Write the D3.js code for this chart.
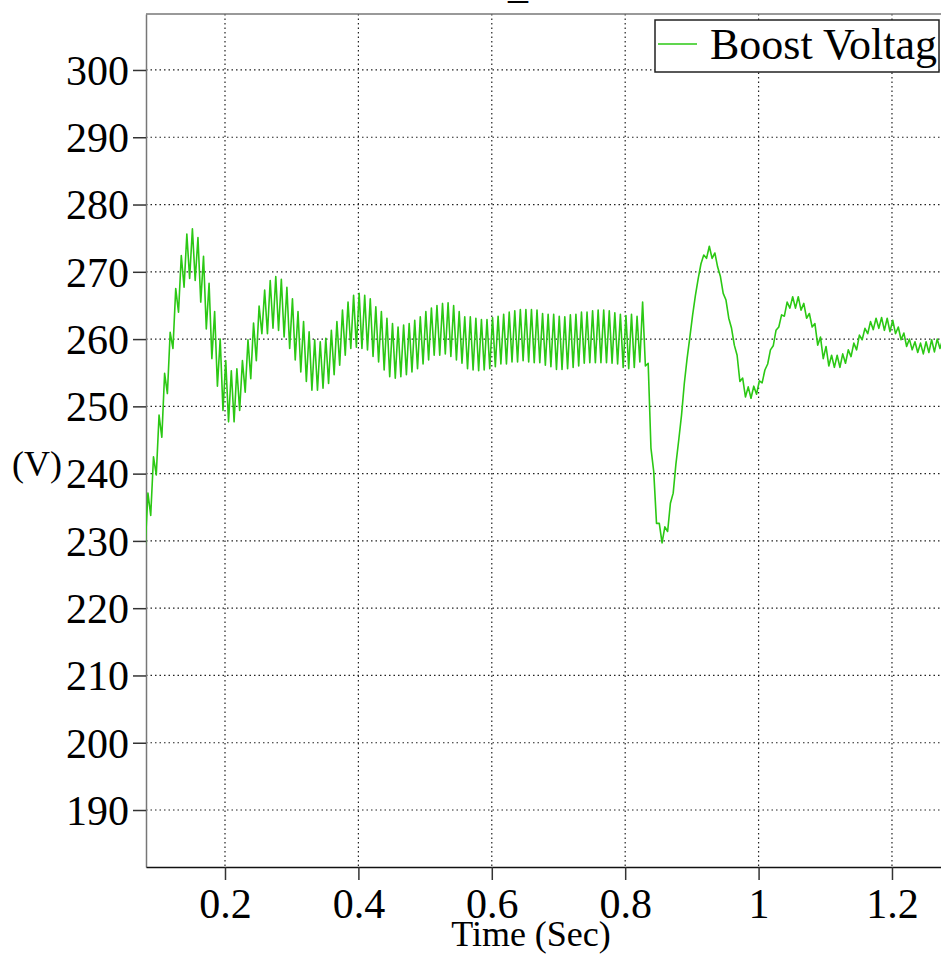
<html>
  <head>
    <meta charset="utf-8"/>
    <style>
      body { margin: 0; background: #fff; }
      text { font-family: "Liberation Serif", "Times New Roman", serif; fill: #000; }
    </style>
  </head>
  <body>
    <svg></svg>
  </body>
  <script src="https://d3js.org/d3.v7.min.js"></script>
  <script>
  // sampled boost voltage, one sample every half ripple period (1/240 s)
  var timeStart = 0.0803;
  var sampleStep = 1 / 240;

  var voltsStartup = [
    229.0, 237.1, 233.8, 242.5, 239.8, 248.7, 245.4, 254.9, 251.9, 261.0,
    258.6, 267.5, 264.0, 272.4, 267.7, 275.6, 269.0, 276.4, 268.7, 275.1,
    265.5, 272.3, 261.5, 268.3, 257.1, 264.1, 253.0, 260.0, 249.4, 256.8,
    247.7, 255.3, 247.7, 255.6, 249.4, 256.8, 252.1, 259.9, 254.1, 262.4,
    256.8, 264.9
  ];

  var voltsRipple = [
    260.8, 267.3, 260.8, 268.7, 261.6, 269.3, 261.3, 268.9, 260.3, 267.7,
    258.6, 266.0, 256.9, 264.1, 255.1, 262.6, 253.7, 261.1, 252.4, 259.9,
    252.4, 259.6, 252.7, 260.1, 253.4, 261.3, 254.7, 262.6, 256.1, 264.3,
    257.6, 265.5, 258.6, 266.5, 258.8, 266.8, 258.6, 266.5, 258.4, 266.0,
    257.4, 264.8, 256.6, 264.1, 255.4, 263.1, 254.4, 262.3, 254.2, 261.8,
    254.4, 262.1, 254.7, 262.3, 255.1, 262.8, 255.6, 263.3, 256.3, 264.1,
    256.9, 264.6, 257.6, 265.0, 257.6, 265.3, 257.8, 265.4, 257.4, 265.0,
    256.9, 264.1, 256.4, 263.3, 255.6, 263.3, 255.4, 263.1, 255.3, 262.9,
    255.4, 262.9, 255.6, 263.2, 255.9, 263.4, 256.3, 263.7, 256.3, 264.0,
    256.6, 264.2, 256.6, 264.4, 256.8, 264.4, 256.6, 264.4, 256.5, 264.3,
    256.5, 263.8, 256.1, 263.7, 255.9, 263.7, 255.5, 263.4, 255.5, 263.3,
    255.6, 263.6, 255.8, 263.7, 256.0, 264.0, 256.4, 264.0, 256.5, 264.2,
    256.5, 264.3, 256.5, 264.3, 256.5, 264.2, 256.4, 263.9, 256.3, 263.7,
    255.8, 263.5, 255.6, 263.7, 255.8, 263.4, 256.6
  ];

  var voltsStep = [
    265.5, 256.0, 256.4, 243.8, 240.3, 232.6, 232.6, 229.7, 232.1, 231.4,
    235.6, 237.1, 241.5, 245.0, 248.7, 253.4, 257.1, 260.3, 263.6, 266.5,
    269.0, 271.2, 272.5, 272.0, 273.8, 272.0, 272.8, 270.7, 269.3, 266.8,
    265.8, 263.1, 261.6, 259.1, 257.6, 253.7, 254.2, 251.4, 252.9, 251.2,
    253.0, 251.8, 253.8, 253.5, 255.4, 256.3, 258.4, 259.0, 261.3, 261.8,
    263.6, 263.4, 265.5, 264.6, 266.3, 264.6, 266.3, 264.3, 265.3, 263.1,
    263.8, 261.8, 262.3, 259.1, 260.3, 257.1, 258.9, 256.0, 257.6, 255.8,
    257.6, 255.8, 257.8, 256.4, 258.4, 257.4, 259.4, 258.4, 260.6, 259.9,
    261.6, 260.8, 262.6, 261.4, 263.1, 261.6, 263.2, 261.3, 263.1, 261.1,
    262.8, 260.8, 261.8, 259.9, 260.9, 258.9, 260.0, 258.4, 259.6, 258.0,
    259.4, 257.8, 259.6, 258.0, 259.9, 258.1, 260.0, 258.6, 260.0
  ];

  var xTicks = [0.2, 0.4, 0.6, 0.8, 1.0, 1.2];
  var xTickLabels = ["0.2", "0.4", "0.6", "0.8", "1", "1.2"];
  var yTicks = [190, 200, 210, 220, 230, 240, 250, 260, 270, 280, 290, 300];
  var seriesName = "Boost Voltage";

  (function() {
    var volts = voltsStartup.concat(voltsRipple, voltsStep);
    var data = volts.map(function(v, i) { return {t: timeStart + i * sampleStep, v: v}; });

    var W = 941, H = 954;
    var pLeft = 146, pTop = 14, pRight = 941, pBottom = 867;
    var green = "#2bc814";

    var svg = d3.select("svg").attr("width", W).attr("height", H);

    var x = d3.scaleLinear().domain([0.08156, 1.2735]).range([pLeft, pRight]);
    var y = d3.scaleLinear().domain([181.53, 308.32]).range([pBottom, pTop]);

    // grid
    svg.append("g").selectAll("line").data(yTicks).enter().append("line")
      .attr("x1", pLeft).attr("x2", pRight)
      .attr("y1", function(d) { return y(d); }).attr("y2", function(d) { return y(d); })
      .attr("stroke", "#222").attr("stroke-width", 1.2).attr("stroke-dasharray", "1.5,3");
    svg.append("g").selectAll("line").data(xTicks).enter().append("line")
      .attr("y1", pTop).attr("y2", pBottom)
      .attr("x1", function(d) { return x(d); }).attr("x2", function(d) { return x(d); })
      .attr("stroke", "#222").attr("stroke-width", 1.2).attr("stroke-dasharray", "1.5,3");

    // frame
    svg.append("line").attr("x1", pLeft).attr("x2", pRight).attr("y1", pTop).attr("y2", pTop)
      .attr("stroke", "#777").attr("stroke-width", 1.5);

    var yAxis = svg.append("g")
      .attr("transform", "translate(" + pLeft + ",0)")
      .call(d3.axisLeft(y).tickValues(yTicks).tickSize(13).tickPadding(4).tickSizeOuter(0));
    yAxis.select(".domain").attr("stroke", "#777").attr("stroke-width", 1.5);
    yAxis.selectAll(".tick line").attr("stroke", "#333").attr("stroke-width", 1.5);
    yAxis.selectAll(".tick text")
      .attr("font-family", "Liberation Serif").attr("font-size", 42).attr("dy", "0.34em");

    var xAxis = svg.append("g")
      .attr("transform", "translate(0," + pBottom + ")")
      .call(d3.axisBottom(x).tickValues(xTicks)
        .tickFormat(function(d, i) { return xTickLabels[i]; })
        .tickSize(13).tickPadding(8).tickSizeOuter(0));
    xAxis.select(".domain").attr("stroke", "#111").attr("stroke-width", 1.5);
    xAxis.selectAll(".tick line").attr("stroke", "#333").attr("stroke-width", 1.5);
    xAxis.selectAll(".tick text")
      .attr("font-family", "Liberation Serif").attr("font-size", 42);

    // series
    svg.append("clipPath").attr("id", "plotClip").append("rect")
      .attr("x", pLeft).attr("y", pTop).attr("width", pRight - pLeft).attr("height", pBottom - pTop);

    svg.append("path")
      .datum(data)
      .attr("clip-path", "url(#plotClip)")
      .attr("fill", "none")
      .attr("stroke", green)
      .attr("stroke-width", 1.6)
      .attr("stroke-linejoin", "round")
      .attr("d", d3.line().x(function(d) { return x(d.t); }).y(function(d) { return y(d.v); }));

    // labels
    svg.append("text").attr("x", 12).attr("y", 476).attr("font-size", 36).text("(V)");
    svg.append("text").attr("x", 531).attr("y", 946).attr("text-anchor", "middle")
      .attr("font-size", 36).text("Time (Sec)");
    svg.append("text").attr("x", 518).attr("y", -2).attr("text-anchor", "middle")
      .attr("font-size", 40).text("_");

    // legend
    var lg = svg.append("g");
    lg.append("clipPath").attr("id", "legClip").append("rect")
      .attr("x", 655).attr("y", 20).attr("width", 282).attr("height", 52);
    lg.append("rect").attr("x", 655).attr("y", 20).attr("width", 284).attr("height", 52)
      .attr("fill", "#fff").attr("stroke", "#222").attr("stroke-width", 1.5);
    lg.append("line").attr("x1", 658).attr("x2", 697).attr("y1", 44).attr("y2", 44)
      .attr("stroke", green).attr("stroke-width", 1.6);
    lg.append("text").attr("x", 710).attr("y", 59).attr("font-size", 44)
      .attr("clip-path", "url(#legClip)").text(seriesName);
  })();
  </script>
</html>
